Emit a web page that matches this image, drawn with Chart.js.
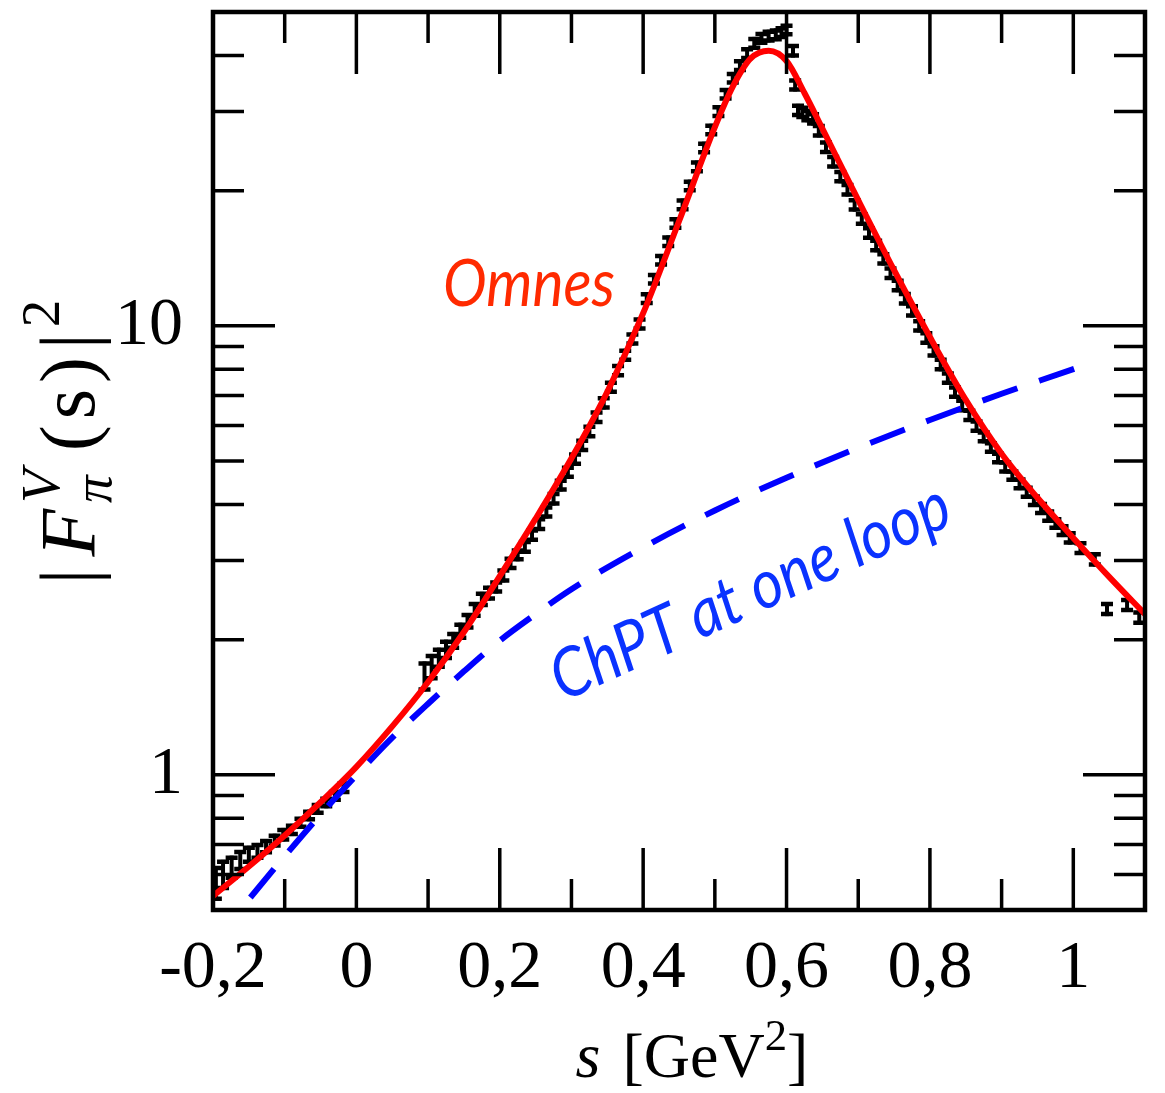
<!DOCTYPE html>
<html>
<head>
<meta charset="utf-8">
<script src="https://cdn.jsdelivr.net/npm/chart.js@4.4.0/dist/chart.umd.min.js"></script>
<style>
  html, body { margin: 0; padding: 0; background: #fff; }
  #wrap { width: 1165px; height: 1093px; }
</style>
</head>
<body>
<div id="wrap"><canvas id="formFactorChart" width="1165" height="1093"></canvas></div>
<script>
const dataS = [
  -0.196, -0.186, -0.174, -0.162, -0.150, -0.138, -0.126, -0.114, -0.102, -0.090,
  -0.078, -0.066, -0.054, -0.042, -0.030, -0.018,
  0.095, 0.105, 0.115, 0.125, 0.135, 0.145, 0.155, 0.165, 0.175, 0.185,
  0.195, 0.205, 0.215, 0.225, 0.235, 0.245, 0.255, 0.265, 0.275, 0.285,
  0.295, 0.305, 0.315, 0.325, 0.335, 0.345, 0.355, 0.365, 0.375, 0.385,
  0.395, 0.405, 0.415, 0.425, 0.435, 0.445, 0.455, 0.465, 0.475, 0.485,
  0.495, 0.505, 0.515, 0.525, 0.535, 0.545, 0.555, 0.565, 0.575, 0.585,
  0.593, 0.600, 0.609, 0.612, 0.616, 0.622, 0.629, 0.637, 0.645, 0.655,
  0.665, 0.675, 0.685, 0.695, 0.705, 0.715, 0.725, 0.735, 0.745, 0.755,
  0.765, 0.775, 0.785, 0.795, 0.805, 0.815, 0.825, 0.835, 0.845, 0.855,
  0.865, 0.875, 0.885, 0.895, 0.905, 0.915, 0.925, 0.935, 0.945, 0.955,
  0.965, 0.975, 0.985, 0.995, 1.010, 1.030, 1.047, 1.075, 1.092
];
const dataF2 = [
  0.575, 0.600, 0.622, 0.645, 0.664, 0.676, 0.692, 0.714, 0.736, 0.754,
  0.782, 0.812, 0.840, 0.868, 0.898, 0.936,
  1.66, 1.74, 1.82, 1.90, 1.99, 2.09, 2.20, 2.33, 2.46, 2.54,
  2.62, 2.78, 2.96, 3.09, 3.22, 3.42, 3.62, 3.85, 4.12, 4.42,
  4.72, 5.05, 5.42, 5.82, 6.26, 6.74, 7.30, 7.95, 8.60, 9.35,
  10.1, 11.5, 12.7, 14.0, 15.4, 16.9, 18.6, 20.5, 22.6, 24.9,
  27.3, 30.0, 32.8, 35.6, 38.0, 40.4, 42.6, 43.7, 44.2, 44.5,
  45.0, 45.6, 41.0, 34.4, 30.2, 29.9, 29.4, 28.9, 27.2, 25.0,
  23.2, 21.5, 20.1, 18.6, 17.3, 16.1, 15.1, 14.1, 13.1, 12.3,
  11.5, 10.8, 10.0, 9.40, 8.80, 8.20, 7.65, 7.12, 6.65, 6.32,
  5.98, 5.66, 5.36, 5.08, 4.85, 4.64, 4.45, 4.26, 4.08, 3.92,
  3.77, 3.63, 3.50, 3.37, 3.20, 3.02, 2.34, 2.39, 2.24
];
const dataErr = [
  0.045, 0.040, 0.032, 0.028, 0.024, 0.022, 0.020, 0.018, 0.018, 0.016,
  0.016, 0.016, 0.017, 0.017, 0.018, 0.020,
  0.11, 0.10, 0.08, 0.08, 0.07, 0.07, 0.07, 0.07, 0.07, 0.07,
  0.06, 0.07, 0.07, 0.07, 0.08, 0.08, 0.09, 0.09, 0.10, 0.10,
  0.11, 0.12, 0.13, 0.14, 0.15, 0.16, 0.17, 0.19, 0.20, 0.22,
  0.23, 0.26, 0.28, 0.31, 0.34, 0.37, 0.41, 0.45, 0.50, 0.55,
  0.60, 0.66, 0.72, 0.79, 0.85, 0.91, 0.96, 0.98, 1.0, 1.0,
  1.0, 1.0, 1.0, 0.8, 0.7, 0.7, 0.7, 0.68, 0.65, 0.6,
  0.56, 0.52, 0.49, 0.45, 0.42, 0.39, 0.37, 0.34, 0.32, 0.30,
  0.28, 0.26, 0.24, 0.23, 0.21, 0.20, 0.18, 0.17, 0.16, 0.15,
  0.14, 0.13, 0.12, 0.11, 0.11, 0.10, 0.10, 0.10, 0.09, 0.09,
  0.09, 0.08, 0.08, 0.08, 0.08, 0.08, 0.06, 0.06, 0.06
];

// Omnes representation (red)
const omnesS = [-0.2, -0.15, -0.1, -0.05, 0, 0.05, 0.1, 0.15, 0.2, 0.25, 0.3, 0.35, 0.4, 0.45,
  0.5, 0.525, 0.55, 0.575, 0.6, 0.625, 0.65, 0.7, 0.75, 0.8, 0.85, 0.9, 0.95, 1.0, 1.05, 1.1];
const omnesF2 = [0.537, 0.625, 0.733, 0.869, 1.042, 1.282, 1.61, 2.08, 2.77, 3.72, 5.07, 7.13, 10.67, 17.1,
  27.7, 34.1, 39.4, 41.0, 38.9, 33.0, 27.5, 19.05, 13.3, 9.44, 6.84, 5.19, 4.14, 3.37, 2.76, 2.28];

// one-loop ChPT (blue dashed)
const chptS = [-0.2, -0.15, -0.1, -0.05, 0, 0.05, 0.1, 0.15, 0.2, 0.25, 0.3, 0.4, 0.5, 0.6, 0.7, 0.8, 0.9, 1.0, 1.015];
const chptF2 = [0.419, 0.528, 0.659, 0.816, 0.998, 1.21, 1.44, 1.70, 1.99, 2.28, 2.59, 3.21, 3.88, 4.59, 5.35, 6.17, 7.06, 8.01, 8.17];

const xMajorTicks = [-0.2, 0, 0.2, 0.4, 0.6, 0.8, 1.0];
const xMinorTicks = [-0.1, 0.1, 0.3, 0.5, 0.7, 0.9, 1.1];
const xTickLabels = ['-0,2', '0', '0,2', '0,4', '0,6', '0,8', '1'];
const yMajorTicks = [1, 10];
const yMinorTicks = [0.6, 0.7, 0.8, 0.9, 2, 3, 4, 5, 6, 7, 8, 9, 20, 30, 40];
const yTickLabels = ['1', '10'];

const SERIF = "'Liberation Serif', 'Times New Roman', serif";
const SANS = "Lato, 'Open Sans', sans-serif";

// error bars go under the curves
const errorBars = {
    id: 'errorBars',
    beforeDatasetsDraw(chart) {
        const { ctx, chartArea: a, scales: { x, y } } = chart;
        ctx.save();
        ctx.beginPath();
        ctx.rect(a.left, a.top, a.width, a.height);
        ctx.clip();
        ctx.strokeStyle = '#000';
        dataS.forEach((s, i) => {
            const px = x.getPixelForValue(s);
            const hi = y.getPixelForValue(dataF2[i] + dataErr[i]);
            const lo = y.getPixelForValue(dataF2[i] - dataErr[i]);
            ctx.lineWidth = 4;
            ctx.beginPath();
            ctx.moveTo(px, hi - 2);
            ctx.lineTo(px, lo + 2);
            ctx.stroke();
            ctx.lineWidth = 4.5;
            ctx.beginPath();
            ctx.moveTo(px - 6, hi);
            ctx.lineTo(px + 6, hi);
            ctx.moveTo(px - 6, lo);
            ctx.lineTo(px + 6, lo);
            ctx.stroke();
        });
        ctx.restore();
    }
};

// box frame with inward ticks on all four sides
const frameTicks = {
    id: 'frameTicks',
    afterDatasetsDraw(chart) {
        const { ctx, chartArea: a, scales: { x, y } } = chart;
        const seg = (x1, y1, x2, y2) => { ctx.moveTo(x1, y1); ctx.lineTo(x2, y2); };
        ctx.save();
        ctx.strokeStyle = '#000';
        ctx.lineWidth = 3.5;
        ctx.beginPath();
        xMajorTicks.forEach(v => {
            const px = x.getPixelForValue(v);
            seg(px, a.bottom, px, a.bottom - 62);
            seg(px, a.top, px, a.top + 62);
        });
        xMinorTicks.forEach(v => {
            const px = x.getPixelForValue(v);
            seg(px, a.bottom, px, a.bottom - 31);
            seg(px, a.top, px, a.top + 31);
        });
        yMajorTicks.forEach(v => {
            const py = y.getPixelForValue(v);
            seg(a.left, py, a.left + 62, py);
            seg(a.right, py, a.right - 62, py);
        });
        yMinorTicks.forEach(v => {
            const py = y.getPixelForValue(v);
            seg(a.left, py, a.left + 31, py);
            seg(a.right, py, a.right - 31, py);
        });
        ctx.stroke();
        ctx.lineWidth = 4.5;
        ctx.strokeRect(a.left, a.top, a.width, a.height);
        ctx.restore();
    }
};

// draws a run of text pieces (for super/subscripts), centred on 0
function drawRuns(ctx, runs) {
    let total = 0;
    runs.forEach(r => { ctx.font = r.font; r.w = r.stack ? 0 : ctx.measureText(r.text).width; total += r.w + (r.gap || 0); });
    let cx = -total / 2;
    runs.forEach(r => {
        ctx.font = r.font;
        ctx.fillText(r.text, cx + (r.dx || 0), r.dy || 0);
        cx += r.w + (r.gap || 0);
    });
}

const labelsPlugin = {
    id: 'labelsPlugin',
    afterDraw(chart) {
        const { ctx } = chart;
        ctx.save();
        ctx.fillStyle = '#000';
        ctx.textBaseline = 'alphabetic';
        ctx.textAlign = 'left';

        // y title |F^V_pi(s)|^2
        const B = 78;
        const sup = `${Math.round(B * 0.7)}px ${SERIF}`;
        ctx.save();
        ctx.translate(94, 442);
        ctx.rotate(-Math.PI / 2);
        drawRuns(ctx, [
            { text: '|', font: `${B}px ${SERIF}`, gap: 12 },
            { text: 'F', font: `italic ${B}px ${SERIF}`, gap: 6 },
            { text: 'π', font: `italic ${sup}`, dy: B * 0.22, stack: true },
            { text: 'V', font: `italic ${sup}`, dy: -B * 0.45, gap: 18 },
            { text: '(', font: `${B}px ${SERIF}`, gap: 6 },
            { text: 's', font: `${B}px ${SERIF}`, gap: 6 },
            { text: ')', font: `${B}px ${SERIF}`, gap: 8 },
            { text: '|', font: `${B}px ${SERIF}`, gap: 6 },
            { text: '2', font: sup, dy: -B * 0.45 }
        ]);
        ctx.restore();

        // x title s [GeV^2]
        const X = 64;
        ctx.save();
        ctx.translate(692, 1077);
        drawRuns(ctx, [
            { text: 's', font: `italic ${X}px ${SERIF}`, gap: 22 },
            { text: '[GeV', font: `${X}px ${SERIF}` },
            { text: '2', font: `${X * 0.7}px ${SERIF}`, dy: -X * 0.42 },
            { text: ']', font: `${X}px ${SERIF}` }
        ]);
        ctx.restore();

        // curve annotations
        ctx.save();
        ctx.fillStyle = '#ff2a00';
        ctx.font = `italic 66px ${SANS}`;
        const ow = ctx.measureText('Omnes').width;
        ctx.translate(443, 306);
        ctx.scale(172 / ow, 1);
        ctx.fillText('Omnes', 0, 0);
        ctx.restore();

        ctx.save();
        ctx.fillStyle = '#0a32ff';
        ctx.font = `italic 68px ${SANS}`;
        const cw = ctx.measureText('ChPT at one loop').width;
        ctx.translate(563, 702);
        ctx.rotate(-24.5 * Math.PI / 180);
        ctx.scale(432 / cw, 1);
        ctx.fillText('ChPT at one loop', 0, 0);
        ctx.restore();

        ctx.restore();
    }
};

function buildChart() {
    const ctx = document.getElementById('formFactorChart');
    new Chart(ctx, {
        type: 'scatter',
        data: {
            datasets: [
                {
                    label: 'Omnes',
                    data: omnesS.map((s, i) => ({ x: s, y: omnesF2[i] })),
                    showLine: true,
                    borderColor: '#ff0000',
                    borderWidth: 6,
                    pointRadius: 0,
                    cubicInterpolationMode: 'monotone',
                    order: 1
                },
                {
                    label: 'ChPT at one loop',
                    data: chptS.map((s, i) => ({ x: s, y: chptF2[i] })),
                    showLine: true,
                    borderColor: '#0000ff',
                    borderWidth: 6,
                    borderDash: [37, 23],
                    pointRadius: 0,
                    cubicInterpolationMode: 'monotone',
                    order: 2
                },
                {
                    label: 'data',
                    data: dataS.map((s, i) => ({ x: s, y: dataF2[i] })),
                    showLine: false,
                    pointRadius: 0,
                    order: 3
                }
            ]
        },
        options: {
            responsive: false,
            animation: false,
            layout: { padding: { top: 12, right: 20, left: 0, bottom: 0 } },
            plugins: {
                legend: { display: false },
                tooltip: { enabled: false }
            },
            scales: {
                x: {
                    type: 'linear',
                    min: -0.2,
                    max: 1.1,
                    grid: { display: false, drawTicks: false },
                    border: { display: false },
                    afterBuildTicks: scale => { scale.ticks = xMajorTicks.map(v => ({ value: v })); },
                    afterFit: scale => {
                        scale.height = 183;
                        scale.paddingLeft = 0;
                        scale.paddingRight = 0;
                    },
                    ticks: {
                        autoSkip: false,
                        maxRotation: 0,
                        padding: 18,
                        color: '#000',
                        font: { family: SERIF, size: 68 },
                        callback: (value, index) => xTickLabels[index]
                    }
                },
                y: {
                    type: 'logarithmic',
                    min: 0.5,
                    max: 50,
                    grid: { display: false, drawTicks: false },
                    border: { display: false },
                    afterBuildTicks: scale => { scale.ticks = yMajorTicks.map(v => ({ value: v })); },
                    afterFit: scale => {
                        scale.width = 213;
                        scale.paddingTop = 0;
                        scale.paddingBottom = 0;
                    },
                    ticks: {
                        autoSkip: false,
                        padding: 30,
                        color: '#000',
                        font: { family: SERIF, size: 68 },
                        callback: (value, index) => yTickLabels[index]
                    }
                }
            }
        },
        plugins: [errorBars, frameTicks, labelsPlugin]
    });
}

document.addEventListener('DOMContentLoaded', buildChart);
</script>
</body>
</html>
